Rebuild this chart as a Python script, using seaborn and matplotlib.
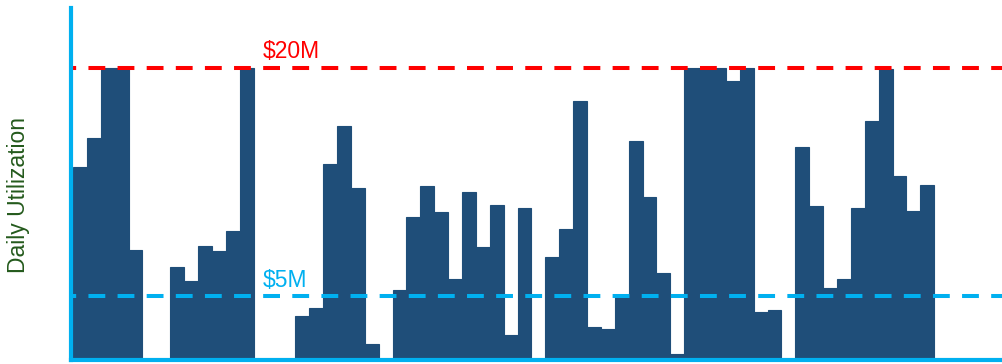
import matplotlib.pyplot as plt
import numpy as np
import seaborn as sns

# daily utilization in $M, one bar per day
days = list(range(1, 63))
utilization = [
    13.5, 15.4, 20.0, 20.0, 8.0, 0, 0, 6.9, 6.0, 8.3,
    7.95, 9.3, 20.0, 0, 0, 0, 3.65, 4.2, 13.65, 16.2,
    12.1, 1.85, 0, 5.4, 10.2, 12.2, 10.5, 6.1, 11.8, 8.2,
    11.0, 2.4, 10.75, 0, 7.55, 9.4, 17.8, 2.95, 2.8, 4.9,
    15.2, 11.5, 6.5, 1.2, 20.0, 20.0, 20.0, 19.1, 20.0, 3.95,
    4.05, 0, 14.8, 10.9, 5.55, 6.1, 10.8, 16.5, 19.9, 12.9,
    10.6, 12.3,
]
limit_labels = ["$20M", "$5M"]
limit_values = [20, 5]

BAR = "#1F4E79"
LIGHT_BLUE = "#00B0F0"
RED = "#FF0000"
GREEN = "#245A1C"

sns.set_theme(style="white")
plt.rcParams["font.family"] = ["Liberation Sans", "DejaVu Sans"]

fig = plt.figure(figsize=(10.03, 3.64), dpi=100)
ax = fig.add_axes([0.0708, 0.011, 0.9292, 0.966])

sns.barplot(x=days, y=utilization, color=BAR, saturation=1, width=1.0,
            edgecolor=BAR, linewidth=0.8, errorbar=None, ax=ax)

ax.set_xlim(-0.644, 66.45)
ax.set_ylim(0.79, 23.9)

dash = (2.9, (4.18, 3.05))
ax.axhline(limit_values[0], color=RED, lw=2.9, ls=dash, zorder=5)
ax.axhline(limit_values[1], color=LIGHT_BLUE, lw=2.9, ls=dash, zorder=5)
ax.text(13.15, 20.61, limit_labels[0], color=RED, fontsize=16.5,
        ha="left", va="baseline")
ax.text(13.15, 5.6, limit_labels[1], color=LIGHT_BLUE, fontsize=16.5,
        ha="left", va="baseline")

ax.set_xticks([])
ax.set_yticks([])
ax.set_xlabel("")
ax.set_ylabel("Daily Utilization", color=GREEN, fontsize=16.5)
ax.yaxis.set_label_coords(-0.044, 0.469)

for side in ["top", "right"]:
    ax.spines[side].set_visible(False)
for side in ["left", "bottom"]:
    ax.spines[side].set_color(LIGHT_BLUE)
    ax.spines[side].set_linewidth(3.0)
    ax.spines[side].set_zorder(6)

fig.savefig("out.png", dpi=100)
